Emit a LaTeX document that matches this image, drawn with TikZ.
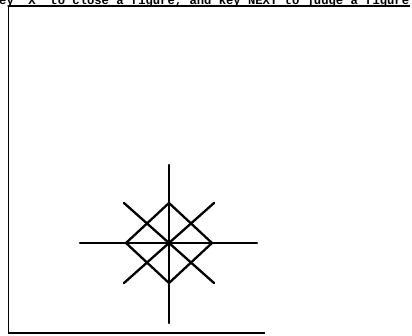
\documentclass[tikz,border=0pt]{standalone}
\usepackage{fontspec}
\newfontfamily\promptfont{Liberation Mono}
\usetikzlibrary{calc}

\begin{document}
\begin{tikzpicture}[
    x=1pt, y=-1pt,
    stroke/.style={line width=2.3pt, line cap=round},
    frame/.style={line width=1.6pt},
    prompt/.style={anchor=base west, inner sep=0pt, font=\promptfont\bfseries\fontsize{12.2}{13}\selectfont}
]
\useasboundingbox (0,0) rectangle (412,336);

% Prompt line, cut off at the top edge
\node[prompt] (msg) at (-1,4.2) {ey~~X~~to close a figure, and key NEXT to judge a figure};

% Window frame
\coordinate (tl) at (8.5,5.8);
\draw[frame] (tl) -- (410,5.8);
\draw[frame] (tl) -- (8.5,333) -- (265,333);

% Figure centre
\coordinate (c) at (169,243);

% Cross
\draw[stroke] ($(c)+(0,-78)$) -- ($(c)+(0,80)$);
\draw[stroke] ($(c)+(-89,0)$) -- ($(c)+(88,0)$);

% Diamond
\draw[stroke, line join=round] ($(c)+(0,-40)$) -- ($(c)+(43,0)$) -- ($(c)+(0,40)$) -- ($(c)+(-43,0)$) -- cycle;

% Diagonals
\foreach \s in {1,-1}
  \draw[stroke] ($(c)+(-45*\s,-40)$) -- ($(c)+(45*\s,40)$);

\end{tikzpicture}
\end{document}
